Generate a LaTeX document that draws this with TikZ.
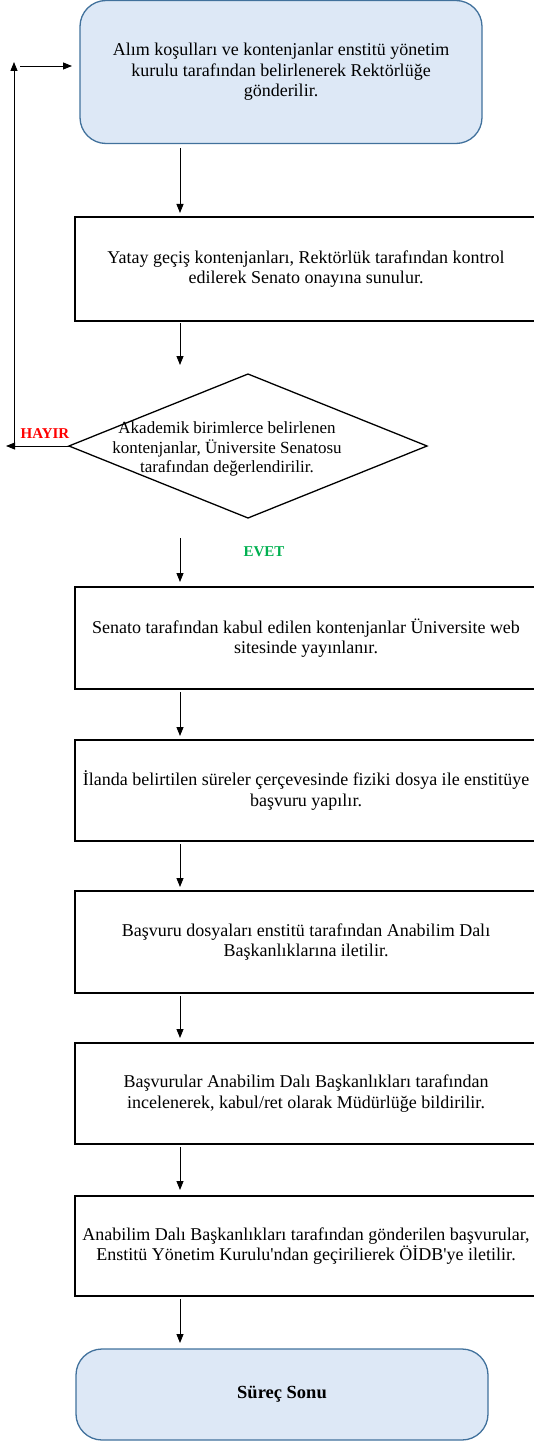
\documentclass[tikz,border=0pt]{standalone}
\usepackage{fontspec}
\setmainfont{Liberation Serif}
\usetikzlibrary{shapes.geometric,arrows.meta}
\definecolor{startfill}{RGB}{221,232,246}
\definecolor{startline}{RGB}{65,113,156}
\definecolor{hayircol}{RGB}{255,0,0}
\definecolor{evetcol}{RGB}{0,176,80}

\begin{document}
\begin{tikzpicture}[x=1pt,y=-1pt,
	txt/.style={font=\fontsize{18}{20.5}\selectfont, align=center},
	ends/.style={draw=startline, fill=startfill, line width=1.3pt, rounded corners=26pt, outer sep=0pt, txt},
	procbox/.style={draw, line width=1.8pt, minimum width=462pt, outer sep=0pt, txt},
	decbox/.style={draw, diamond, line width=1.3pt, minimum width=358pt, minimum height=144pt, inner sep=0pt, outer sep=0pt},
	arr/.style={-{Triangle[width=7pt,length=9pt]}, line width=0.8pt},
	ans/.style={font=\fontsize{15}{17}\selectfont\bfseries}]
						\useasboundingbox (0,0) rectangle (534,1442);
						\coordinate (ax) at (180,0);
						\node[ends, minimum width=402pt, minimum height=143pt] (start) at (281,72) {Alım koşulları ve kontenjanlar enstitü yönetim\\kurulu tarafından belirlenerek Rektörlüğe\\gönderilir.};
						\node[procbox, minimum height=104pt] (kont) at (306,269) {Yatay geçiş kontenjanları, Rektörlük tarafından kontrol\\edilerek Senato onayına sunulur.};
						\node[decbox] (senato) at (248,446) {};
						\node[txt, font=\fontsize{17}{19.5}\selectfont] (senatotxt) at (227,449) {Akademik birimlerce belirlenen\\kontenjanlar, Üniversite Senatosu\\tarafından değerlendirilir.};
						\node[procbox, minimum height=102pt] (web) at (306,638) {Senato tarafından kabul edilen kontenjanlar Üniversite web\\sitesinde yayınlanır.};
						\node[procbox, minimum height=101pt] (basvuru) at (306,790.5) {İlanda belirtilen süreler çerçevesinde fiziki dosya ile enstitüye\\başvuru yapılır.};
						\node[procbox, minimum height=102pt] (dosya) at (306,942) {Başvuru dosyaları enstitü tarafından Anabilim Dalı\\Başkanlıklarına iletilir.};
						\node[procbox, minimum height=101pt] (inceleme) at (306,1093.5) {Başvurular Anabilim Dalı Başkanlıkları tarafından\\incelenerek, kabul/ret olarak Müdürlüğe bildirilir.};
						\node[procbox, minimum height=100pt] (oidb) at (306,1246) {Anabilim Dalı Başkanlıkları tarafından gönderilen başvurular,\\Enstitü Yönetim Kurulu\textquotesingle ndan geçirilierek ÖİDB\textquotesingle ye iletilir.};
						\node[ends, minimum width=412pt, minimum height=91pt, font=\fontsize{18.5}{21}\selectfont\bfseries] (son) at (282,1394.5) {Süreç Sonu};
						\node[ans, text=hayircol] (hayir) at (45,434) {HAYIR};
						\node[ans, text=evetcol] (evet) at (264,552) {EVET};
						% ana akis
						\draw[arr] ([yshift=-5pt]start.south -| ax) to ([yshift=4pt]kont.north -| ax);
						\draw[arr] ([yshift=-2pt]kont.south -| ax) to ([yshift=9pt]senato.north -| ax);
						\draw[arr] ([yshift=-20pt]senato.south -| ax) to ([yshift=5pt]web.north -| ax);
						\draw[arr] ([yshift=-3pt]web.south -| ax) to ([yshift=4pt]basvuru.north -| ax);
						\draw[arr] ([yshift=-3pt]basvuru.south -| ax) to ([yshift=4pt]dosya.north -| ax);
						\draw[arr] ([yshift=-3pt]dosya.south -| ax) to ([yshift=5pt]inceleme.north -| ax);
						\draw[arr] ([yshift=-3pt]inceleme.south -| ax) to ([yshift=6pt]oidb.north -| ax);
						\draw[arr] ([yshift=-3pt]oidb.south -| ax) to ([yshift=6pt]son.north -| ax);
						% hayir donusu
						\coordinate (hayirend) at (6,446);
						\coordinate (loopbot) at (14,446);
						\coordinate (looptop) at (14,62);
						\coordinate (loopin) at (20,66);
						\draw[arr] (senato.west) to (hayirend);
						\draw[arr] (loopbot) to (looptop);
						\draw[arr, shorten >=8pt] (loopin) to (loopin -| start.west);
					\end{tikzpicture}
\end{document}
